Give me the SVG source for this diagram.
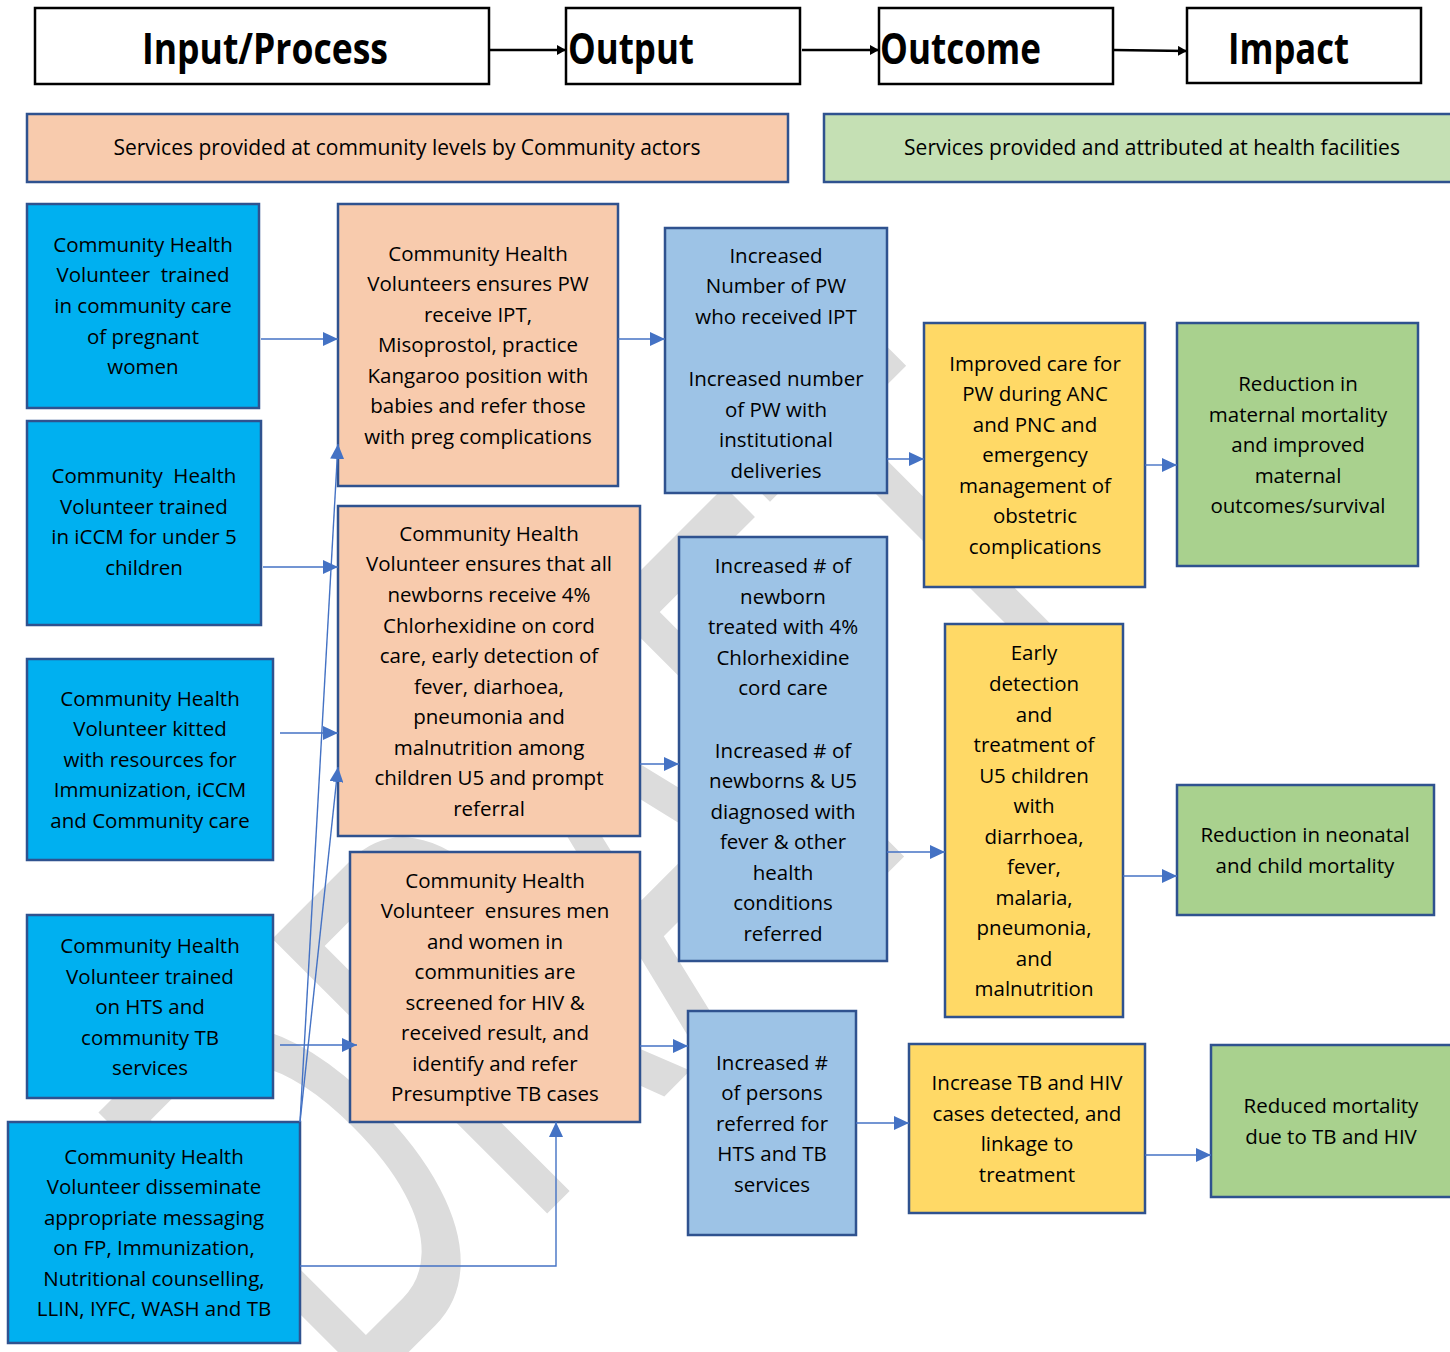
<svg xmlns="http://www.w3.org/2000/svg" width="1450" height="1352" viewBox="0 0 1450 1352">
<style>
.t{font-family:"Open Sans","Noto Sans",sans-serif;font-size:20.5px;fill:#000;text-anchor:middle}
.bt{font-family:"Open Sans","Noto Sans",sans-serif;font-size:21px;fill:#000;text-anchor:middle}
.h{font-family:"Open Sans","Noto Sans",sans-serif;font-size:43px;font-weight:bold;fill:#000}
.hb{fill:#fff;stroke:#000;stroke-width:2.5}
.box{stroke:#2F528F;stroke-width:2.5}
.in{fill:#00B0F0}.pr{fill:#F8CBAD}.oc{fill:#9DC3E6}.ye{fill:#FFD966}.gr{fill:#A9D18E}.gb{fill:#C5E0B4}
.c{stroke:#4472C4;stroke-width:1.4;fill:none;marker-end:url(#ab)}
.k{stroke:#000;stroke-width:2.5;fill:none;marker-end:url(#ak)}
.wm{font-family:"Liberation Sans",Arial,sans-serif;font-size:565px;fill:#DCDCDC}
</style>
<defs>
<marker id="ab" markerUnits="userSpaceOnUse" markerWidth="16" markerHeight="14" refX="15" refY="7" orient="auto"><path d="M0,0 L15,7 L0,14 z" fill="#4472C4"/></marker>
<marker id="ak" markerUnits="userSpaceOnUse" markerWidth="10" markerHeight="10" refX="9" refY="5" orient="auto"><path d="M0,0 L9,5 L0,10 z" fill="#000"/></marker>
</defs>
<rect width="1450" height="1352" fill="#fff"/>
<g id="watermark">
<text class="wm" transform="rotate(-45)" x="-745" y="1245" textLength="1135" lengthAdjust="spacingAndGlyphs">DRAFT</text>
</g>
<g id="header">
<g id="h-input"><rect class="hb" x="35" y="8" width="454" height="76"/><text class="h" x="142" y="64" textLength="246" lengthAdjust="spacingAndGlyphs">Input/Process</text></g>
<g id="h-output"><rect class="hb" x="566" y="8" width="234" height="76"/><text class="h" x="568" y="64" textLength="126" lengthAdjust="spacingAndGlyphs">Output</text></g>
<g id="h-outcome"><rect class="hb" x="879" y="8" width="234" height="76"/><text class="h" x="880" y="64" textLength="161" lengthAdjust="spacingAndGlyphs">Outcome</text></g>
<g id="h-impact"><rect class="hb" x="1187" y="8" width="234" height="75"/><text class="h" x="1228" y="64" textLength="121" lengthAdjust="spacingAndGlyphs">Impact</text></g>
</g>
<g id="banner-community"><rect class="box pr" x="27" y="114" width="761" height="68"/><text class="bt" x="407" y="155">Services provided at community levels by Community actors</text></g>
<g id="banner-facility"><rect class="box gb" x="824" y="114" width="640" height="68"/><text class="bt" x="1152" y="155">Services provided and attributed at health facilities</text></g>

<g id="in-a"><rect class="box in" x="27" y="204" width="232" height="204"/><text class="t"><tspan x="143" y="252">Community Health</tspan><tspan x="143" y="282">Volunteer&#160; trained</tspan><tspan x="143" y="313">in community care</tspan><tspan x="143" y="344">of pregnant</tspan><tspan x="143" y="374">women</tspan></text></g>
<g id="in-b"><rect class="box in" x="27" y="421" width="234" height="204"/><text class="t"><tspan x="144" y="483">Community&#160; Health</tspan><tspan x="144" y="514">Volunteer trained</tspan><tspan x="144" y="544">in iCCM for under 5</tspan><tspan x="144" y="575">children</tspan></text></g>
<g id="in-c"><rect class="box in" x="27" y="659" width="246" height="201"/><text class="t"><tspan x="150" y="706">Community Health</tspan><tspan x="150" y="736">Volunteer kitted</tspan><tspan x="150" y="767">with resources for</tspan><tspan x="150" y="797">Immunization, iCCM</tspan><tspan x="150" y="828">and Community care</tspan></text></g>
<g id="in-d"><rect class="box in" x="27" y="915" width="246" height="183"/><text class="t"><tspan x="150" y="953">Community Health</tspan><tspan x="150" y="984">Volunteer trained</tspan><tspan x="150" y="1014">on HTS and</tspan><tspan x="150" y="1045">community TB</tspan><tspan x="150" y="1075">services</tspan></text></g>
<g id="in-e"><rect class="box in" x="8" y="1122" width="292" height="221"/><text class="t"><tspan x="154" y="1164">Community Health</tspan><tspan x="154" y="1194">Volunteer disseminate</tspan><tspan x="154" y="1225">appropriate messaging</tspan><tspan x="154" y="1255">on FP, Immunization,</tspan><tspan x="154" y="1286">Nutritional counselling,</tspan><tspan x="154" y="1316">LLIN, IYFC, WASH and TB</tspan></text></g>

<g id="pr-1"><rect class="box pr" x="338" y="204" width="280" height="282"/><text class="t"><tspan x="478" y="261">Community Health</tspan><tspan x="478" y="291">Volunteers ensures PW</tspan><tspan x="478" y="322">receive IPT,</tspan><tspan x="478" y="352">Misoprostol, practice</tspan><tspan x="478" y="383">Kangaroo position with</tspan><tspan x="478" y="413">babies and refer those</tspan><tspan x="478" y="444">with preg complications</tspan></text></g>
<g id="pr-2"><rect class="box pr" x="338" y="506" width="302" height="330"/><text class="t"><tspan x="489" y="541">Community Health</tspan><tspan x="489" y="571">Volunteer ensures that all</tspan><tspan x="489" y="602">newborns receive 4%</tspan><tspan x="489" y="633">Chlorhexidine on cord</tspan><tspan x="489" y="663">care, early detection of</tspan><tspan x="489" y="694">fever, diarhoea,</tspan><tspan x="489" y="724">pneumonia and</tspan><tspan x="489" y="755">malnutrition among</tspan><tspan x="489" y="785">children U5 and prompt</tspan><tspan x="489" y="816">referral</tspan></text></g>
<g id="pr-3"><rect class="box pr" x="350" y="852" width="290" height="270"/><text class="t"><tspan x="495" y="888">Community Health</tspan><tspan x="495" y="918">Volunteer&#160; ensures men</tspan><tspan x="495" y="949">and women in</tspan><tspan x="495" y="979">communities are</tspan><tspan x="495" y="1010">screened for HIV &amp;</tspan><tspan x="495" y="1040">received result, and</tspan><tspan x="495" y="1071">identify and refer</tspan><tspan x="495" y="1101">Presumptive TB cases</tspan></text></g>

<g id="oc-1"><rect class="box oc" x="665" y="228" width="222" height="265"/><text class="t"><tspan x="776" y="263">Increased</tspan><tspan x="776" y="293">Number of PW</tspan><tspan x="776" y="324">who received IPT</tspan><tspan x="776" y="386">Increased number</tspan><tspan x="776" y="417">of PW with</tspan><tspan x="776" y="447">institutional</tspan><tspan x="776" y="478">deliveries</tspan></text></g>
<g id="oc-2"><rect class="box oc" x="679" y="537" width="208" height="424"/><text class="t"><tspan x="783" y="573">Increased # of</tspan><tspan x="783" y="604">newborn</tspan><tspan x="783" y="634">treated with 4%</tspan><tspan x="783" y="665">Chlorhexidine</tspan><tspan x="783" y="695">cord care</tspan><tspan x="783" y="758">Increased # of</tspan><tspan x="783" y="788">newborns &amp; U5</tspan><tspan x="783" y="819">diagnosed with</tspan><tspan x="783" y="849">fever &amp; other</tspan><tspan x="783" y="880">health</tspan><tspan x="783" y="910">conditions</tspan><tspan x="783" y="941">referred</tspan></text></g>
<g id="oc-3"><rect class="box oc" x="688" y="1011" width="168" height="224"/><text class="t"><tspan x="772" y="1070">Increased #</tspan><tspan x="772" y="1100">of persons</tspan><tspan x="772" y="1131">referred for</tspan><tspan x="772" y="1161">HTS and TB</tspan><tspan x="772" y="1192">services</tspan></text></g>

<g id="ye-1"><rect class="box ye" x="924" y="323" width="221" height="264"/><text class="t"><tspan x="1035" y="371">Improved care for</tspan><tspan x="1035" y="401">PW during ANC</tspan><tspan x="1035" y="432">and PNC and</tspan><tspan x="1035" y="462">emergency</tspan><tspan x="1035" y="493">management of</tspan><tspan x="1035" y="523">obstetric</tspan><tspan x="1035" y="554">complications</tspan></text></g>
<g id="ye-2"><rect class="box ye" x="945" y="624" width="178" height="393"/><text class="t"><tspan x="1034" y="660">Early</tspan><tspan x="1034" y="691">detection</tspan><tspan x="1034" y="722">and</tspan><tspan x="1034" y="752">treatment of</tspan><tspan x="1034" y="783">U5 children</tspan><tspan x="1034" y="813">with</tspan><tspan x="1034" y="844">diarrhoea,</tspan><tspan x="1034" y="874">fever,</tspan><tspan x="1034" y="905">malaria,</tspan><tspan x="1034" y="935">pneumonia,</tspan><tspan x="1034" y="966">and</tspan><tspan x="1034" y="996">malnutrition</tspan></text></g>
<g id="ye-3"><rect class="box ye" x="909" y="1044" width="236" height="169"/><text class="t"><tspan x="1027" y="1090">Increase TB and HIV</tspan><tspan x="1027" y="1121">cases detected, and</tspan><tspan x="1027" y="1151">linkage to</tspan><tspan x="1027" y="1182">treatment</tspan></text></g>

<g id="gr-1"><rect class="box gr" x="1177" y="323" width="241" height="243"/><text class="t"><tspan x="1298" y="391">Reduction in</tspan><tspan x="1298" y="422">maternal mortality</tspan><tspan x="1298" y="452">and improved</tspan><tspan x="1298" y="483">maternal</tspan><tspan x="1298" y="513">outcomes/survival</tspan></text></g>
<g id="gr-2"><rect class="box gr" x="1177" y="785" width="257" height="130"/><text class="t"><tspan x="1305" y="842">Reduction in neonatal</tspan><tspan x="1305" y="873">and child mortality</tspan></text></g>
<g id="gr-3"><rect class="box gr" x="1211" y="1045" width="250" height="152"/><text class="t"><tspan x="1331" y="1113">Reduced mortality</tspan><tspan x="1331" y="1144">due to TB and HIV</tspan></text></g>

<g id="connectors">
<line class="k" x1="489" y1="50" x2="566" y2="50"/>
<line class="k" x1="802" y1="50" x2="879" y2="50"/>
<line class="k" x1="1113" y1="50" x2="1187" y2="51"/>
<line class="c" x1="261" y1="339" x2="338" y2="339"/>
<line class="c" x1="263" y1="567" x2="338" y2="567"/>
<line class="c" x1="280" y1="733" x2="338" y2="733"/>
<line class="c" x1="280" y1="1045" x2="357" y2="1045"/>
<line class="c" x1="300" y1="1122" x2="338" y2="444"/>
<line class="c" x1="300" y1="1122" x2="338" y2="767"/>
<polyline class="c" points="300,1266 556,1266 556,1122"/>
<line class="c" x1="618" y1="339" x2="665" y2="339"/>
<line class="c" x1="640" y1="764" x2="679" y2="764"/>
<line class="c" x1="640" y1="1046" x2="688" y2="1046"/>
<line class="c" x1="887" y1="459" x2="924" y2="459"/>
<line class="c" x1="887" y1="852" x2="945" y2="852"/>
<line class="c" x1="856" y1="1123" x2="909" y2="1123"/>
<line class="c" x1="1145" y1="465" x2="1177" y2="465"/>
<line class="c" x1="1123" y1="876" x2="1177" y2="876"/>
<line class="c" x1="1145" y1="1155" x2="1211" y2="1155"/>
</g>
</svg>
